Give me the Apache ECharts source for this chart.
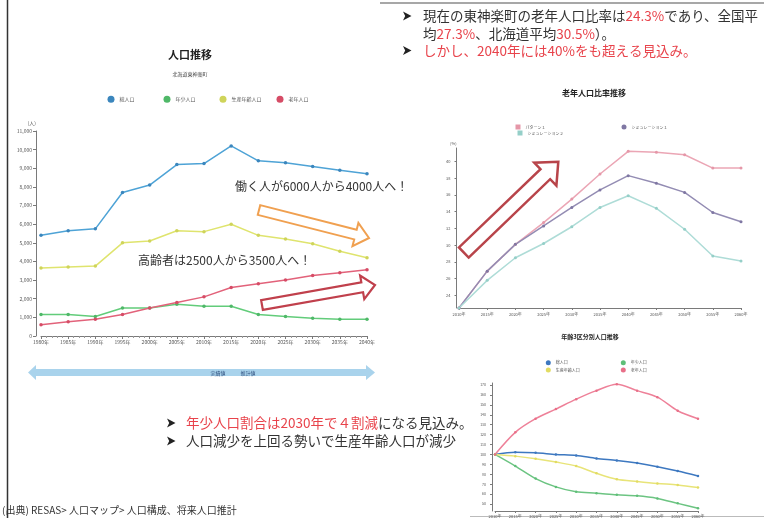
<!DOCTYPE html>
<html>
<head>
<meta charset="utf-8">
<script src="https://cdn.jsdelivr.net/npm/echarts@6/dist/echarts.min.js"></script>
<style>
    html, body { margin: 0; padding: 0; background: #fff; }
    #chart { width: 764px; height: 518px; }
</style>
</head>
<body>
<div id="chart"></div>
<script>
    // 人口推移（実績値・推計値）
    const years = [1980, 1985, 1990, 1995, 2000, 2005, 2010, 2015, 2020, 2025, 2030, 2035, 2040];
    const totalPop = [5400, 5650, 5750, 7700, 8100, 9200, 9250, 10200, 9400, 9300, 9100, 8900, 8700];
    const youngPop = [1150, 1150, 1050, 1500, 1500, 1700, 1600, 1600, 1150, 1050, 950, 900, 900];
    const workPop = [3650, 3700, 3750, 5000, 5100, 5650, 5600, 6000, 5400, 5200, 4950, 4550, 4200];
    const oldPop = [600, 770, 900, 1150, 1500, 1800, 2100, 2600, 2800, 3000, 3250, 3400, 3550];

    // 老年人口比率推移 (%)
    const projYears = ['2010年', '2015年', '2020年', '2025年', '2030年', '2035年', '2040年', '2045年', '2050年', '2055年', '2060年'];
    const pattern1 = [22.5, 26.9, 30.1, 32.7, 35.5, 38.5, 41.2, 41.1, 40.8, 39.2, 39.2];
    const sim1 = [22.5, 26.9, 30.1, 32.3, 34.5, 36.6, 38.3, 37.4, 36.3, 33.9, 32.8];
    const sim2 = [22.5, 25.8, 28.5, 30.2, 32.2, 34.5, 35.9, 34.4, 31.9, 28.7, 28.1];

    // 年齢3区分別人口推移 (2010年=100)
    const idxTotal = [100, 102.3, 101.7, 100, 99, 96, 94, 91.3, 87.7, 83.3, 78.3];
    const idxYoung = [100, 88.3, 75.7, 67.3, 62.3, 61, 59.3, 58.3, 55.7, 50.7, 45.7];
    const idxWork = [100, 98.3, 95.7, 92.3, 88.3, 81, 75, 72.7, 70.7, 69.3, 66.7];
    const idxOld = [100, 122.3, 136, 145.7, 155.7, 164.3, 170.7, 164.3, 157.7, 144, 136];

    const popNames = ['総人口', '年少人口', '生産年齢人口', '老年人口'];
    const ratioNames = ['パターン１', 'シミュレーション１', 'シミュレーション２'];

    const FONT = '"Noto Sans CJK JP", "Noto Sans", sans-serif';
    const RED = '#e8434b';

    function blockArrow (x1, y1, x2, y2, sw, hw, hl) {
        const dx = x2 - x1, dy = y2 - y1;
        const len = Math.hypot(dx, dy);
        const ux = dx / len, uy = dy / len, nx = -uy, ny = ux;
        const bx = x2 - ux * hl, by = y2 - uy * hl;
        return [
            [x1 + nx * sw, y1 + ny * sw],
            [bx + nx * sw, by + ny * sw],
            [bx + nx * hw, by + ny * hw],
            [x2, y2],
            [bx - nx * hw, by - ny * hw],
            [bx - nx * sw, by - ny * sw],
            [x1 - nx * sw, y1 - ny * sw]
        ];
    }

    function txt (x, y, text, size, opts) {
        opts = opts || {};
        return {
            type: 'text', x: x, y: y, z: 50,
            style: {
                text: text,
                font: (opts.bold ? 'bold ' : '') + size + 'px ' + FONT,
                fill: opts.color || '#333',
                align: opts.align || 'left',
                verticalAlign: 'middle',
                rich: opts.rich
            }
        };
    }

    // small filled arrowhead used as bullet
    function bullet (x, y) {
        return {
            type: 'polygon', z: 50,
            shape: { points: [[x - 4, y - 4.5], [x + 4.5, y], [x - 4, y + 4.5], [x - 1.8, y]] },
            style: { fill: '#222' }
        };
    }

    // one legend component per item, so each sits where the slide has it
    function legendItem (item, left, top, size, fontSize, icon) {
        return {
            left: left, top: top, padding: 0, icon: icon || 'circle',
            itemWidth: size, itemHeight: size,
            textStyle: { fontSize: fontSize, color: '#555', fontFamily: FONT },
            data: [item]
        };
    }

    const axisColor = '#7a7a7a';
    const labelColor = '#555';

    function lineSeries (name, xi, data, color, dot, extra) {
        return Object.assign({
            name: name,
            type: 'line',
            xAxisIndex: xi,
            yAxisIndex: xi,
            data: data,
            symbol: 'circle',
            symbolSize: 3,
            lineStyle: { color: color, width: 1.5 },
            itemStyle: { color: dot }
        }, extra || {});
    }

    const chart = echarts.init(document.getElementById('chart'));

    const richRed = { r: { fill: RED, font: '13.5px ' + FONT } };

    chart.setOption({
        animation: false,
        backgroundColor: '#fff',
        grid: [
            { left: 41, right: 397, top: 131, bottom: 182, outerBoundsMode: 'none' },
            { left: 459, right: 23, top: 148, bottom: 210, outerBoundsMode: 'none' },
            { left: 495, right: 66, top: 383, bottom: 7, outerBoundsMode: 'none' }
        ],
        legend: [
            legendItem(popNames[0], 107.5, 95.8, 7, 5),
            legendItem(popNames[1], 163.5, 95.8, 7, 5),
            legendItem(popNames[2], 219.5, 95.8, 7, 5),
            legendItem(popNames[3], 276.5, 95.8, 7, 5),

            legendItem(ratioNames[0], 515.5, 124.5, 5, 4, 'rect'),
            legendItem(ratioNames[1], 621.5, 124.5, 5, 4, 'circle'),
            legendItem(ratioNames[2], 517.5, 130.5, 5, 4, 'rect'),

            legendItem({ name: '総人口', itemStyle: { color: '#3d78c0' } }, 545.8, 360.2, 5, 4),
            legendItem({ name: '年少人口', itemStyle: { color: '#5fbf78' } }, 620.8, 360.2, 5, 4),
            legendItem({ name: '生産年齢人口', itemStyle: { color: '#e2dc62' } }, 545.8, 367.5, 5, 4),
            legendItem({ name: '老年人口', itemStyle: { color: '#e86f88' } }, 620.8, 367.5, 5, 4)
        ],
        xAxis: [
            {
                gridIndex: 0, type: 'value', min: 1980, max: 2040, interval: 5,
                axisLine: { lineStyle: { color: axisColor } },
                axisTick: { length: 3, lineStyle: { color: axisColor } },
                minorTick: { show: true, splitNumber: 5, length: 2, lineStyle: { color: '#999' } },
                splitLine: { show: false },
                axisLabel: { formatter: v => v + '年', fontSize: 5, color: labelColor, margin: 4, fontFamily: FONT }
            },
            {
                gridIndex: 1, type: 'category', data: projYears, boundaryGap: false,
                axisLine: { lineStyle: { color: axisColor } },
                axisTick: { length: 2, lineStyle: { color: axisColor } },
                axisLabel: { fontSize: 4, color: labelColor, margin: 4, fontFamily: FONT }
            },
            {
                gridIndex: 2, type: 'category', data: projYears, boundaryGap: false,
                axisLine: { lineStyle: { color: axisColor } },
                axisTick: { length: 2, lineStyle: { color: axisColor } },
                axisLabel: { fontSize: 4, color: labelColor, margin: 3, fontFamily: FONT }
            }
        ],
        yAxis: [
            {
                gridIndex: 0, type: 'value', min: 0, max: 11000, interval: 1000, offset: 5,
                name: '(人)', nameGap: 5,
                nameTextStyle: { fontSize: 5, color: labelColor, align: 'right', fontFamily: FONT },
                axisLine: { show: true, lineStyle: { color: axisColor } },
                axisTick: { show: true, length: 3, lineStyle: { color: axisColor } },
                splitLine: { show: false },
                axisLabel: { fontSize: 5, color: labelColor, margin: 4, fontFamily: FONT }
            },
            {
                gridIndex: 1, type: 'value', min: 22.5, max: 41.6, splitNumber: 10, offset: 2.5,
                name: '(%)', nameGap: 3,
                nameTextStyle: { fontSize: 4, color: labelColor, align: 'right', fontFamily: FONT },
                axisLine: { show: true, lineStyle: { color: axisColor } },
                axisTick: { show: true, length: 2, lineStyle: { color: axisColor } },
                splitLine: { show: false },
                axisLabel: { fontSize: 4, color: labelColor, margin: 6, showMinLabel: false, showMaxLabel: false, fontFamily: FONT }
            },
            {
                gridIndex: 2, type: 'value', min: 43, max: 172, splitNumber: 13, offset: 3,
                axisLine: { show: true, lineStyle: { color: axisColor } },
                axisTick: { show: true, length: 2, lineStyle: { color: axisColor } },
                splitLine: { show: false },
                axisLabel: { fontSize: 3.5, color: labelColor, margin: 6, showMinLabel: false, showMaxLabel: false, fontFamily: FONT }
            }
        ],
        series: [
            lineSeries('総人口', 0, years.map((y, i) => [y, totalPop[i]]), '#4ea3d6', '#3b86bd', { symbolSize: 3.5 }),
            lineSeries('年少人口', 0, years.map((y, i) => [y, youngPop[i]]), '#62cc7a', '#4fb868', { symbolSize: 3.5 }),
            lineSeries('生産年齢人口', 0, years.map((y, i) => [y, workPop[i]]), '#dfe46e', '#cfd45a', { symbolSize: 3.5 }),
            lineSeries('老年人口', 0, years.map((y, i) => [y, oldPop[i]]), '#e2627a', '#d64c66', { symbolSize: 3.5 }),

            lineSeries(ratioNames[0], 1, pattern1, '#eba6b5', '#e597a8'),
            lineSeries(ratioNames[1], 1, sim1, '#938cb3', '#7f77a3'),
            lineSeries(ratioNames[2], 1, sim2, '#aedcd7', '#95cfc8'),

            lineSeries('総人口', 2, idxTotal, '#3d78c0', '#3d78c0', { smooth: 0.3, symbolSize: 2.5 }),
            lineSeries('年少人口', 2, idxYoung, '#6cc482', '#5fbf78', { smooth: 0.3, symbolSize: 2.5 }),
            lineSeries('生産年齢人口', 2, idxWork, '#e8e478', '#e2dc62', { smooth: 0.3, symbolSize: 2.5 }),
            lineSeries('老年人口', 2, idxOld, '#ee8199', '#e86f88', { smooth: 0.3, symbolSize: 2.5 })
        ],
        graphic: [
            // frame lines
            { type: 'line', shape: { x1: 7.5, y1: 0, x2: 7.5, y2: 518 }, style: { stroke: '#333', lineWidth: 1.5 } },
            { type: 'line', shape: { x1: 380, y1: 3, x2: 764, y2: 3 }, style: { stroke: '#8a8a8a', lineWidth: 1.5 } },
            { type: 'line', shape: { x1: 470, y1: 516.5, x2: 764, y2: 516.5 }, style: { stroke: '#bbb', lineWidth: 1 } },

            // chart titles
            txt(190, 55, '人口推移', 11, { bold: true, align: 'center', color: '#222' }),
            txt(190, 74, '北海道東神楽町', 5, { align: 'center', color: '#444' }),
            txt(594, 93, '老年人口比率推移', 8, { bold: true, align: 'center', color: '#222' }),
            txt(590, 337, '年齢3区分別人口推移', 6, { bold: true, align: 'center', color: '#222' }),

            // timeline bar
            {
                type: 'polygon', z: 10,
                shape: { points: [[28, 372.5], [36, 365], [36, 369], [366, 369], [366, 365], [375, 372.5], [366, 380], [366, 376], [36, 376], [36, 380]] },
                style: { fill: '#a9d3ec' }
            },
            txt(218, 373, '実績値', 5, { align: 'center', color: '#2a4a7a' }),
            txt(248, 373, '推計値', 5, { align: 'center', color: '#2a4a7a' }),

            // annotation arrows
            {
                type: 'polygon', z: 20,
                shape: { points: blockArrow(259, 210, 369, 238, 5, 12, 14) },
                style: { fill: '#fff', stroke: '#f0a050', lineWidth: 2 }
            },
            {
                type: 'polygon', z: 20,
                shape: { points: blockArrow(262, 305, 375, 285, 5, 12, 13) },
                style: { fill: '#fff', stroke: '#c0404c', lineWidth: 2.2 }
            },
            {
                type: 'polygon', z: 20,
                shape: { points: blockArrow(463.8, 252.5, 558.3, 161.7, 7, 16, 18) },
                style: { fill: 'rgba(255,255,255,0)', stroke: '#b8444a', lineWidth: 2.5 }
            },
            txt(235, 186, '働く人が6000人から4000人へ！', 12, { color: '#333' }),
            txt(138, 260, '高齢者は2500人から3500人へ！', 12, { color: '#333' }),

            // bullets top right
            bullet(407, 16),
            txt(423, 16, '現在の東神楽町の老年人口比率は{r|24.3%}であり、全国平', 13.5, { rich: richRed }),
            txt(423, 33.5, '均{r|27.3%}、北海道平均{r|30.5%}）。', 13.5, { rich: richRed }),
            bullet(407, 50.5),
            txt(423, 50.5, 'しかし、2040年には40%をも超える見込み。', 13.5, { color: RED }),

            // bullets bottom
            bullet(171, 423),
            txt(186, 423, '{r|年少人口割合は2030年で４割減}になる見込み。', 13.5, { rich: richRed }),
            bullet(171, 441),
            txt(186, 441, '人口減少を上回る勢いで生産年齢人口が減少', 13.5),

            // source
            txt(2, 510, '(出典) RESAS> 人口マップ> 人口構成、将来人口推計', 10, { color: '#333' })
        ]
    });
</script>
</body>
</html>
